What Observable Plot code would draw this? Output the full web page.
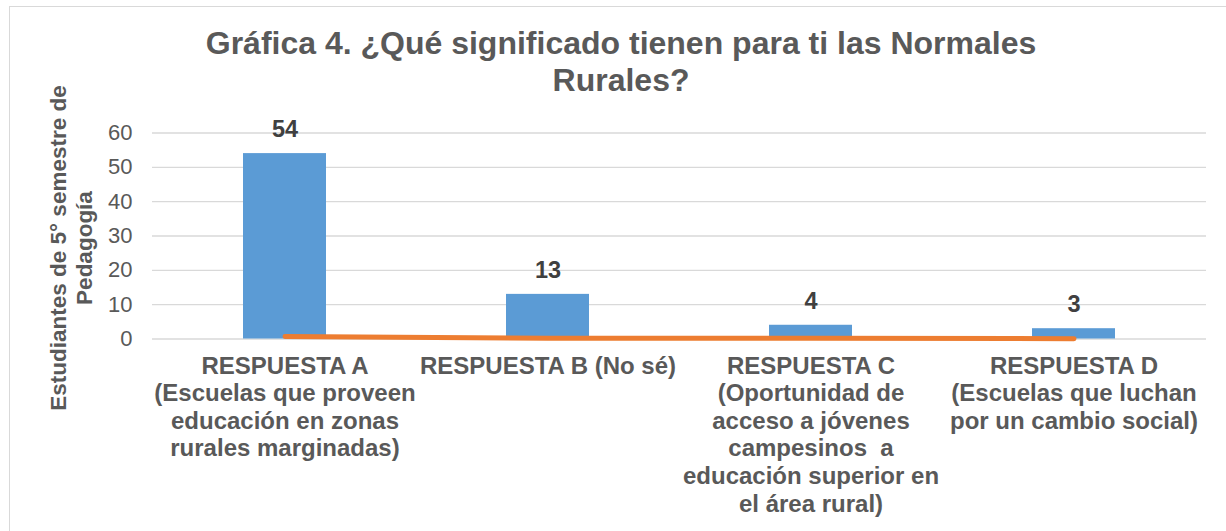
<!DOCTYPE html>
<html>
<head>
<meta charset="utf-8">
<script src="https://cdn.jsdelivr.net/npm/d3@7"></script>
<script src="https://cdn.jsdelivr.net/npm/@observablehq/plot@0.6"></script>
<style>
  html, body { margin: 0; padding: 0; background: #fff; overflow: hidden; }
  #wrap { position: relative; width: 1226px; height: 531px; overflow: hidden; font-family: "Liberation Sans", Arial, sans-serif; }
  #border { position: absolute; left: 9px; top: 6px; width: 1300px; height: 600px; border: 1.5px solid #D9D9D9; box-sizing: border-box; }
  #title { position: absolute; left: 0; width: 1242px; top: 25px; text-align: center; font-weight: bold; font-size: 32px; line-height: 37px; color: #595959; }
  #chart { position: absolute; left: 0; top: 0; }
</style>
</head>
<body>
<div id="wrap">
  <div id="border"></div>
  <div id="chart"></div>
  <div id="title">Gráfica 4. ¿Qué significado tienen para ti las Normales<br>Rurales?</div>
</div>
<script>
const categories = ["RESPUESTA A", "RESPUESTA B", "RESPUESTA C", "RESPUESTA D"];
const categoryLabels = [
  "RESPUESTA A\n(Escuelas que proveen\neducación en zonas\nrurales marginadas)",
  "RESPUESTA B (No sé)",
  "RESPUESTA C\n(Oportunidad de\nacceso a jóvenes\ncampesinos  a\neducación superior en\nel área rural)",
  "RESPUESTA D\n(Escuelas que luchan\npor un cambio social)"
];
const students = [54, 13, 4, 3];
const secondSeries = [0.7, 0.2, 0.2, 0.1];
const yTicks = [0, 10, 20, 30, 40, 50, 60];
const yLabel = "Estudiantes de 5° semestre de\nPedagogía";

const bars = categories.map((c, i) => ({cat: c, value: students[i]}));
const line = categories.map((c, i) => ({cat: c, value: secondSeries[i]}));
const labelOf = new Map(categories.map((c, i) => [c, categoryLabels[i]]));

const chart = Plot.plot({
  width: 1226,
  height: 531,
  marginLeft: 152,
  marginRight: 20,
  marginTop: 132.5,
  marginBottom: 192.5,
  style: {fontFamily: "'Liberation Sans', Arial, sans-serif", background: "transparent", overflow: "visible"},
  x: {domain: categories, paddingInner: 0.686, paddingOuter: 0.343, label: null},
  y: {domain: [0, 60], label: null},
  marks: [
    Plot.ruleY(yTicks, {stroke: "#D9D9D9", strokeWidth: 1.4}),
    Plot.axisY({ticks: yTicks, tickSize: 0, tickPadding: 20, fontSize: 22, fill: "#595959", label: null}),
    Plot.axisX({tickSize: 0, tickPadding: 15, fontSize: 24, fontWeight: "bold", fill: "#595959", lineHeight: 1.15, lineAnchor: "top", tickFormat: d => labelOf.get(d), label: null}),
    Plot.barY(bars, {x: "cat", y: "value", fill: "#5B9BD5"}),
    Plot.line(line, {x: "cat", y: "value", stroke: "#ED7D31", strokeWidth: 5, strokeLinecap: "round"}),
    Plot.text(bars, {x: "cat", y: "value", text: d => String(d.value), dy: -24, fontSize: 23.5, fontWeight: "bold", fill: "#404040"}),
    Plot.text([yLabel], {frameAnchor: "left", text: d => d, rotate: -90, textAnchor: "middle", lineAnchor: "middle", dx: -82, dy: 12, fontSize: 22.5, fontWeight: "bold", fill: "#595959", lineHeight: 1.15})
  ]
});
document.getElementById("chart").appendChild(chart);
</script>
</body>
</html>
